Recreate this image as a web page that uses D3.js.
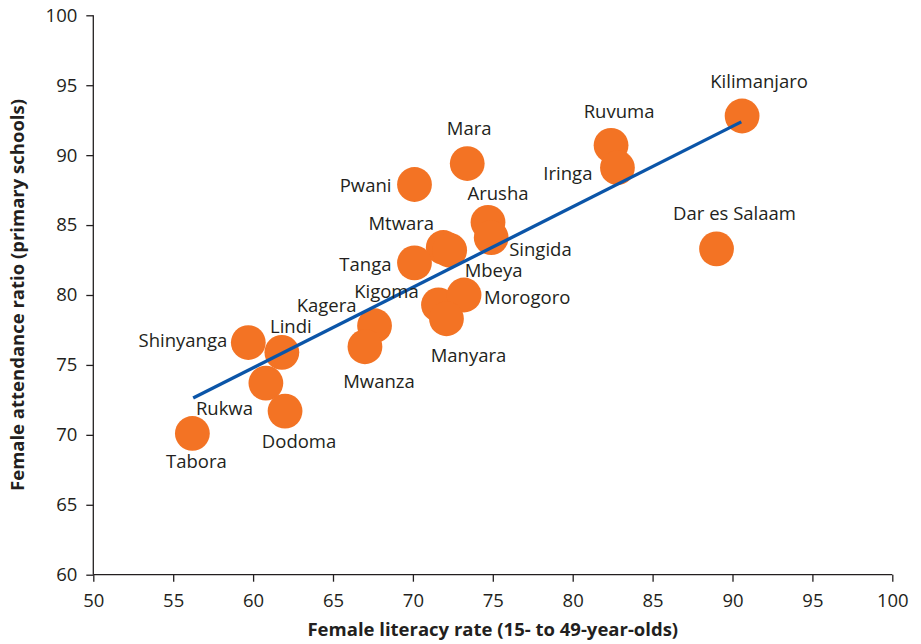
<!DOCTYPE html>
<html>
<head>
<meta charset="utf-8">
<script src="https://cdn.jsdelivr.net/npm/d3@7"></script>
<style>
  html, body { margin: 0; padding: 0; background: #fff; }
  svg { display: block; font-family: "Open Sans", "Noto Sans", sans-serif; }
</style>
</head>
<body>
<svg id="chart" width="921" height="644"></svg>
<script>
// ---- Data ----
const regions = ["Kilimanjaro","Ruvuma","Iringa","Dar es Salaam","Mara","Pwani","Arusha","Singida",
  "Mtwara","Mbeya","Tanga","Kigoma","Morogoro","Manyara","Kagera","Mwanza","Shinyanga","Lindi",
  "Rukwa","Dodoma","Tabora"];
const literacy = [90.6, 82.4, 82.8, 89.0, 73.4, 70.1, 74.7, 74.9,
  71.9, 72.3, 70.1, 71.6, 73.2, 72.1, 67.6, 67.0, 59.7, 61.8,
  60.8, 62.0, 56.2];
const attendance = [92.8, 90.7, 89.1, 83.3, 89.4, 87.9, 85.2, 84.1,
  83.4, 83.2, 82.3, 79.3, 80.0, 78.3, 77.8, 76.3, 76.6, 75.9,
  73.7, 71.7, 70.1];
const trendX = [56.25, 90.55];
const trendY = [72.64, 92.38];
const xTicks = [50, 55, 60, 65, 70, 75, 80, 85, 90, 95, 100];
const yTicks = [60, 65, 70, 75, 80, 85, 90, 95, 100];
const xTitle = "Female literacy rate (15- to 49-year-olds)";
const yTitle = "Female attendance ratio (primary schools)";

// ---- Label layout (pixel offsets from the dot, text anchor) ----
const labelLayout = {
  "Kilimanjaro": [17, -28, "middle"], "Ruvuma": [8, -27, "middle"], "Iringa": [-25, 12, "end"],
  "Dar es Salaam": [18, -29, "middle"], "Mara": [2, -29, "middle"], "Pwani": [-23, 7, "end"],
  "Arusha": [10, -22, "middle"], "Singida": [18, 18, "start"], "Mtwara": [-42, -17, "middle"],
  "Mbeya": [15, 27, "start"], "Tanga": [-23, 8, "end"], "Kigoma": [-52, -7, "middle"],
  "Morogoro": [20, 9, "start"], "Manyara": [22, 43, "middle"], "Kagera": [-18, -14, "end"],
  "Mwanza": [14, 41, "middle"], "Shinyanga": [-21, 4, "end"], "Lindi": [9, -19, "middle"],
  "Rukwa": [-70, 32, "start"], "Dodoma": [14, 37, "middle"], "Tabora": [4, 35, "middle"]
};

// ---- Chart ----
const svg = d3.select("#chart");
const mLeft = 93.3, mRight = 892.3, mTop = 15.3, mBottom = 574.7;
const x = d3.scaleLinear().domain([50, 100]).range([mLeft, mRight]);
const y = d3.scaleLinear().domain([60, 100]).range([mBottom, mTop]);
const textColor = "#231f20";
const orange = "#f37324";
const blue = "#0b55a8";

const xAxis = svg.append("g")
  .attr("transform", `translate(0,${mBottom})`)
  .call(d3.axisBottom(x).tickValues(xTicks).tickSize(7).tickPadding(12).tickFormat(d3.format("d")));
const yAxis = svg.append("g")
  .attr("transform", `translate(${mLeft},0)`)
  .call(d3.axisLeft(y).tickValues(yTicks).tickSize(7).tickPadding(9).tickFormat(d3.format("d")));

[xAxis, yAxis].forEach(g => {
  g.select(".domain").attr("stroke", textColor).attr("stroke-width", 1.3)
    .attr("d", g === xAxis ? `M${mLeft},0H${mRight}` : `M0,${mBottom}V${mTop}`);
  g.selectAll(".tick line").attr("stroke", textColor).attr("stroke-width", 1.3);
  g.selectAll(".tick text").attr("fill", textColor).attr("font-size", "18.5px")
    .attr("font-family", "'Open Sans', sans-serif");
});

// Dots
const pts = regions.map((r, i) => ({ name: r, lx: literacy[i], ay: attendance[i] }));
svg.append("g").selectAll("circle").data(pts).join("circle")
  .attr("cx", d => x(d.lx)).attr("cy", d => y(d.ay)).attr("r", 17.4)
  .attr("fill", orange);

// Trend line
svg.append("path")
  .datum(trendX.map((v, i) => [v, trendY[i]]))
  .attr("d", d3.line().x(d => x(d[0])).y(d => y(d[1])))
  .attr("stroke", blue).attr("stroke-width", 3.3).attr("fill", "none");

// Labels
svg.append("g").selectAll("text").data(pts).join("text")
  .attr("x", d => x(d.lx) + labelLayout[d.name][0])
  .attr("y", d => y(d.ay) + labelLayout[d.name][1])
  .attr("text-anchor", d => labelLayout[d.name][2])
  .attr("font-size", "18.5px").attr("fill", textColor)
  .text(d => d.name);

// Axis titles
svg.append("text")
  .attr("x", (mLeft + mRight) / 2).attr("y", 636)
  .attr("text-anchor", "middle").attr("font-weight", "bold")
  .attr("font-size", "18.5px").attr("fill", textColor)
  .text(xTitle);
svg.append("text")
  .attr("transform", `translate(24,${(mTop + mBottom) / 2}) rotate(-90)`)
  .attr("text-anchor", "middle").attr("font-weight", "bold")
  .attr("font-size", "18.5px").attr("fill", textColor)
  .text(yTitle);
</script>
</body>
</html>
